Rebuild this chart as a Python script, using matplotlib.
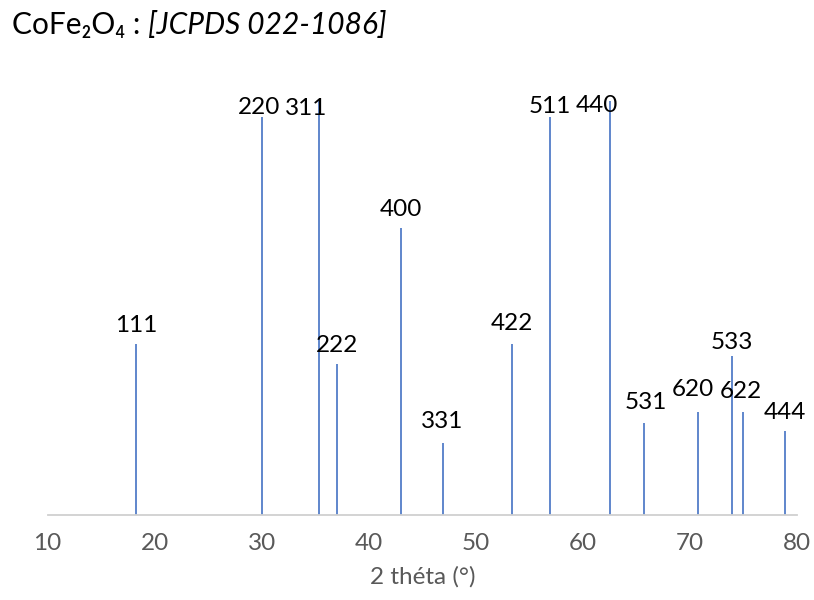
import matplotlib
matplotlib.use("Agg")
import matplotlib.pyplot as plt

# XRD reference peaks, CoFe2O4 JCPDS 022-1086
two_theta = [18.3, 30.0, 35.4, 37.0, 43.0, 46.9, 53.4, 56.9, 62.5, 65.7, 70.8, 73.9, 75.0, 78.9]
intensity = [43, 100, 104, 38, 72, 18, 43, 100, 104, 23, 26, 40, 26, 21]
hkl = ["111", "220", "311", "222", "400", "331", "422", "511", "440", "531", "620", "533", "622", "444"]
x_ticks = [10, 20, 30, 40, 50, 60, 70, 80]

# label nudges in pixels (dx, dy), like Excel's manually moved data labels
LABEL_NUDGE = {
    "220": (-3, -9),
    "311": (-13, -26),
    "511": (0, -8),
    "440": (-13, -23),
    "620": (-6, 4),
    "622": (-3, 2),
    "533": (0, -5),
    "331": (0, 3),
    "422": (0, 2),
    "531": (2, 2),
}
LABEL_GAP = 12
BLUE = "#4472C4"
GREY = "#595959"
FONT = ["Lato", "DejaVu Sans"]
FS = 17.5

plt.rcParams["font.family"] = FONT

fig = plt.figure(figsize=(8.14, 6), dpi=100)
W, H = 814, 600
base_px, left_px, right_px = 515, 47.5, 797
top_px = base_px - 398 * 110 / 100
ax = fig.add_axes([left_px / W, 1 - base_px / H, (right_px - left_px) / W, (base_px - top_px) / H])

ax.vlines(two_theta, 0, intensity, color=BLUE, linewidth=1.2, clip_on=False)
for x, y, lab in zip(two_theta, intensity, hkl):
    dx, dy = LABEL_NUDGE.get(lab, (0, 0))
    ax.annotate(lab, (x, y), xytext=(dx, LABEL_GAP + dy), textcoords="offset pixels",
                ha="center", va="baseline", fontsize=FS, color="black", annotation_clip=False)

ax.set_xlim(10, 80)
ax.set_ylim(0, 110)
ax.set_xticks(x_ticks)
ax.tick_params(axis="x", length=0, pad=13, labelsize=FS, labelcolor=GREY)
ax.set_yticks([])
for side in ("top", "right", "left"):
    ax.spines[side].set_visible(False)
ax.spines["bottom"].set_color("#D0D0D0")
ax.spines["bottom"].set_linewidth(1.3)
ax.set_xlabel("2 théta (°)", fontsize=FS, color=GREY, labelpad=9)

# title built from two pieces: upright formula, italic reference
t1 = fig.text(12 / W, 1 - 34 / H, "CoFe\u2082O\u2084 : ", fontsize=21.5, color="black",
              va="baseline", ha="left", family=FONT)
fig.canvas.draw()
bb = t1.get_window_extent()
fig.text(bb.x1 / W, 1 - 34 / H, "[JCPDS 022-1086]", fontsize=21.5, color="black",
         va="baseline", ha="left", style="italic", family=FONT)

fig.savefig("out.png", dpi=100)
